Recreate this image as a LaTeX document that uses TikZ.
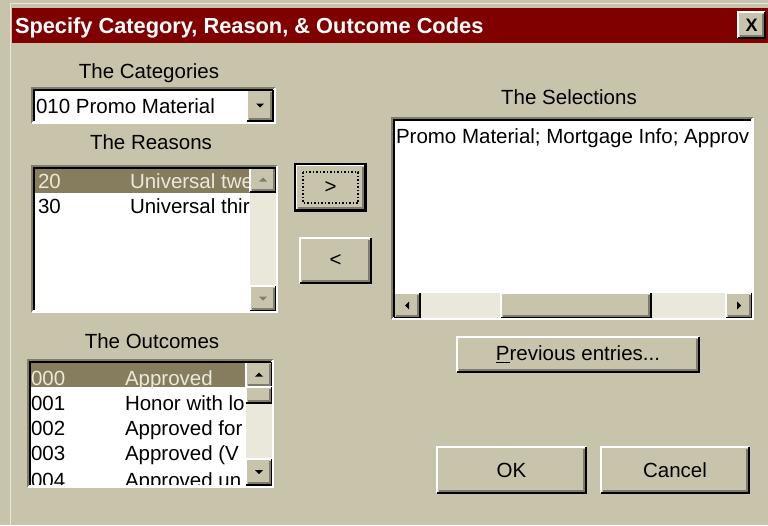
\documentclass[tikz,border=0pt]{standalone}
\usepackage{fontspec}
\setmainfont{Liberation Sans}
\usetikzlibrary{positioning}

\definecolor{dlgbg}{RGB}{200,196,171}
\definecolor{titlered}{RGB}{128,0,0}
\definecolor{selrow}{RGB}{133,125,94}
\definecolor{seltext}{RGB}{236,233,218}
\definecolor{track}{RGB}{234,232,219}
\definecolor{bevelgray}{RGB}{128,124,106}

\begin{document}
\begin{tikzpicture}[x=1pt, y=-1pt,
	every node/.style={font=\fontsize{20.5}{24}\selectfont, inner sep=0pt, outer sep=0pt},
	field/.style={anchor=north west, fill=white},
	knob/.style={anchor=north west, fill=dlgbg},
	trackbar/.style={anchor=north west, fill=track},
	hilite/.style={anchor=north west, fill=selrow},
	caption/.style={anchor=base},
	item/.style={anchor=base west},
	itemsel/.style={item, text=seltext}]
\newcommand{\raisedframe}[1]{
	\draw[white, line width=2pt] (#1.south west) -- (#1.north west) -- (#1.north east);
	\draw[black, line width=2pt] (#1.north east) -- (#1.south east) -- (#1.south west);
	\draw[bevelgray, line width=2pt] ([shift={(-2,2)}]#1.north east) -- ([shift={(-2,-2)}]#1.south east) -- ([shift={(2,-2)}]#1.south west);
}
\newcommand{\sunkenframe}[1]{
	\draw[bevelgray, line width=2pt] (#1.south west) -- (#1.north west) -- (#1.north east);
	\draw[white, line width=2pt] (#1.north east) -- (#1.south east) -- (#1.south west);
	\draw[black, line width=2pt] ([shift={(2,-2)}]#1.south west) -- ([shift={(2,2)}]#1.north west) -- ([shift={(-2,2)}]#1.north east);
}
\newcommand{\uptri}[2][black]{\fill[#1] ([shift={(-4,2)}]#2.center) -- ++(8,0) -- ++(-4,-4) -- cycle;}
\newcommand{\downtri}[2][black]{\fill[#1] ([shift={(-4,-2)}]#2.center) -- ++(8,0) -- ++(-4,4) -- cycle;}
\newcommand{\lefttri}[2][black]{\fill[#1] ([shift={(2,-4)}]#2.center) -- ++(0,8) -- ++(-4,-4) -- cycle;}
\newcommand{\righttri}[2][black]{\fill[#1] ([shift={(-2,-4)}]#2.center) -- ++(0,8) -- ++(4,-4) -- cycle;}
\useasboundingbox (0,0) rectangle (768,525);
\fill[dlgbg] (0,0) rectangle (768,525);
\draw[white!60!dlgbg, line width=1pt] (10,525) -- (10,3) -- (768,3);

% title bar
\node[anchor=north west, fill=titlered, minimum width=756, minimum height=35] (titlebar) at (12,8) {};
\node[anchor=base west, text=white, font=\fontsize{21.8}{24}\selectfont\bfseries] (title) at (15,33) {Specify Category, Reason, \& Outcome Codes};
\node[knob, minimum width=27, minimum height=26] (closebtn) at (738,12) {};
\raisedframe{closebtn}
\node[font=\fontsize{18}{20}\selectfont\bfseries] (closex) at (closebtn) {X};

% captions
\node[caption] (catcap) at (149,78) {The Categories};
\node[caption] (reascap) at (151,149) {The Reasons};
\node[caption] (outcap) at (152,348) {The Outcomes};
\node[caption] (selcap) at (569,104) {The Selections};

% category combo
\node[field, minimum width=243, minimum height=35] (catbox) at (32,88) {};
\node[item] (catitem) at (36,113) {010 Promo Material};
\node[knob, minimum width=26, minimum height=31] (catdrop) at (247,90) {};
\raisedframe{catdrop}
\downtri{catdrop}
\sunkenframe{catbox}

% reasons list
\node[field, minimum width=245, minimum height=146] (reaslist) at (32,166) {};
\node[hilite, minimum width=218, minimum height=26] (reasrow) at (32,167) {};
\node[trackbar, minimum width=26, minimum height=144] (reastrack) at (250,167) {};
\begin{scope}
	\clip (32,166) rectangle (250,312);
	\node[itemsel] (r20) at (38,188) {20};
	\node[itemsel] (r20txt) at (130,188) {Universal twe};
	\node[item] (r30) at (38,213) {30};
	\node[item] (r30txt) at (130,213) {Universal thir};
\end{scope}
\node[knob, minimum width=26, minimum height=25] (reasup) at (250,167) {};
\raisedframe{reasup}
\uptri[bevelgray]{reasup}
\node[knob, minimum width=26, minimum height=25] (reasdown) at (250,286) {};
\raisedframe{reasdown}
\downtri[bevelgray]{reasdown}
\sunkenframe{reaslist}

% move buttons
\node[knob, minimum width=69, minimum height=45] (addbtn) at (296,165) {>};
\raisedframe{addbtn}
\draw[black, line width=2pt] ([shift={(-1,-1)}]addbtn.north west) rectangle ([shift={(1,1)}]addbtn.south east);
\draw[black, dotted, line width=1.5pt] ([shift={(7,7)}]addbtn.north west) rectangle ([shift={(-7,-7)}]addbtn.south east);
\node[knob, minimum width=71, minimum height=45] (removebtn) at (300,238) {<};
\raisedframe{removebtn}

% selections box
\node[field, minimum width=361, minimum height=201] (selbox) at (392,118) {};
\begin{scope}
	\clip (392,118) rectangle (750,293);
	\node[item] (seltxt) at (396,143) {Promo Material; Mortgage Info; Approv};
\end{scope}
\node[trackbar, minimum width=358, minimum height=25] (seltrack) at (394,293) {};
\node[knob, minimum width=26, minimum height=25] (selleft) at (394,293) {};
\raisedframe{selleft}
\lefttri{selleft}
\node[knob, minimum width=150, minimum height=25] (selthumb) at (501,293) {};
\raisedframe{selthumb}
\node[knob, minimum width=26, minimum height=25] (selright) at (726,293) {};
\raisedframe{selright}
\righttri{selright}
\sunkenframe{selbox}

\node[knob, minimum width=242, minimum height=35] (prevbtn) at (457,337) {\underline{P}revious entries...};
\raisedframe{prevbtn}

% outcomes list
\node[field, minimum width=245, minimum height=127] (outlist) at (28,360) {};
\node[hilite, minimum width=218, minimum height=25] (outrow) at (28,362) {};
\node[trackbar, minimum width=26, minimum height=123] (outtrack) at (246,362) {};
\begin{scope}
	\clip (28,360) rectangle (246,484);
	\node[itemsel] (o000) at (31,385) {000};
	\node[itemsel] (o000txt) at (125,385) {Approved};
	\node[item] (o001) at (31,410) {001};
	\node[item] (o001txt) at (125,410) {Honor with lo};
	\node[item] (o002) at (31,435) {002};
	\node[item] (o002txt) at (125,435) {Approved for};
	\node[item] (o003) at (31,460) {003};
	\node[item] (o003txt) at (125,460) {Approved (V};
	\node[item] (o004) at (31,487) {004};
	\node[item] (o004txt) at (125,487) {Approved un};
\end{scope}
\node[knob, minimum width=26, minimum height=25] (outup) at (246,362) {};
\raisedframe{outup}
\uptri{outup}
\node[knob, minimum width=26, minimum height=16] (outthumb) at (246,387) {};
\raisedframe{outthumb}
\node[knob, minimum width=26, minimum height=26] (outdown) at (246,459) {};
\raisedframe{outdown}
\downtri{outdown}
\sunkenframe{outlist}

% dialog buttons
\node[knob, minimum width=149, minimum height=46] (okbtn) at (437,447) {OK};
\raisedframe{okbtn}
\node[knob, minimum width=148, minimum height=46] (cancelbtn) at (601,447) {Cancel};
\raisedframe{cancelbtn}
\end{tikzpicture}
\end{document}
